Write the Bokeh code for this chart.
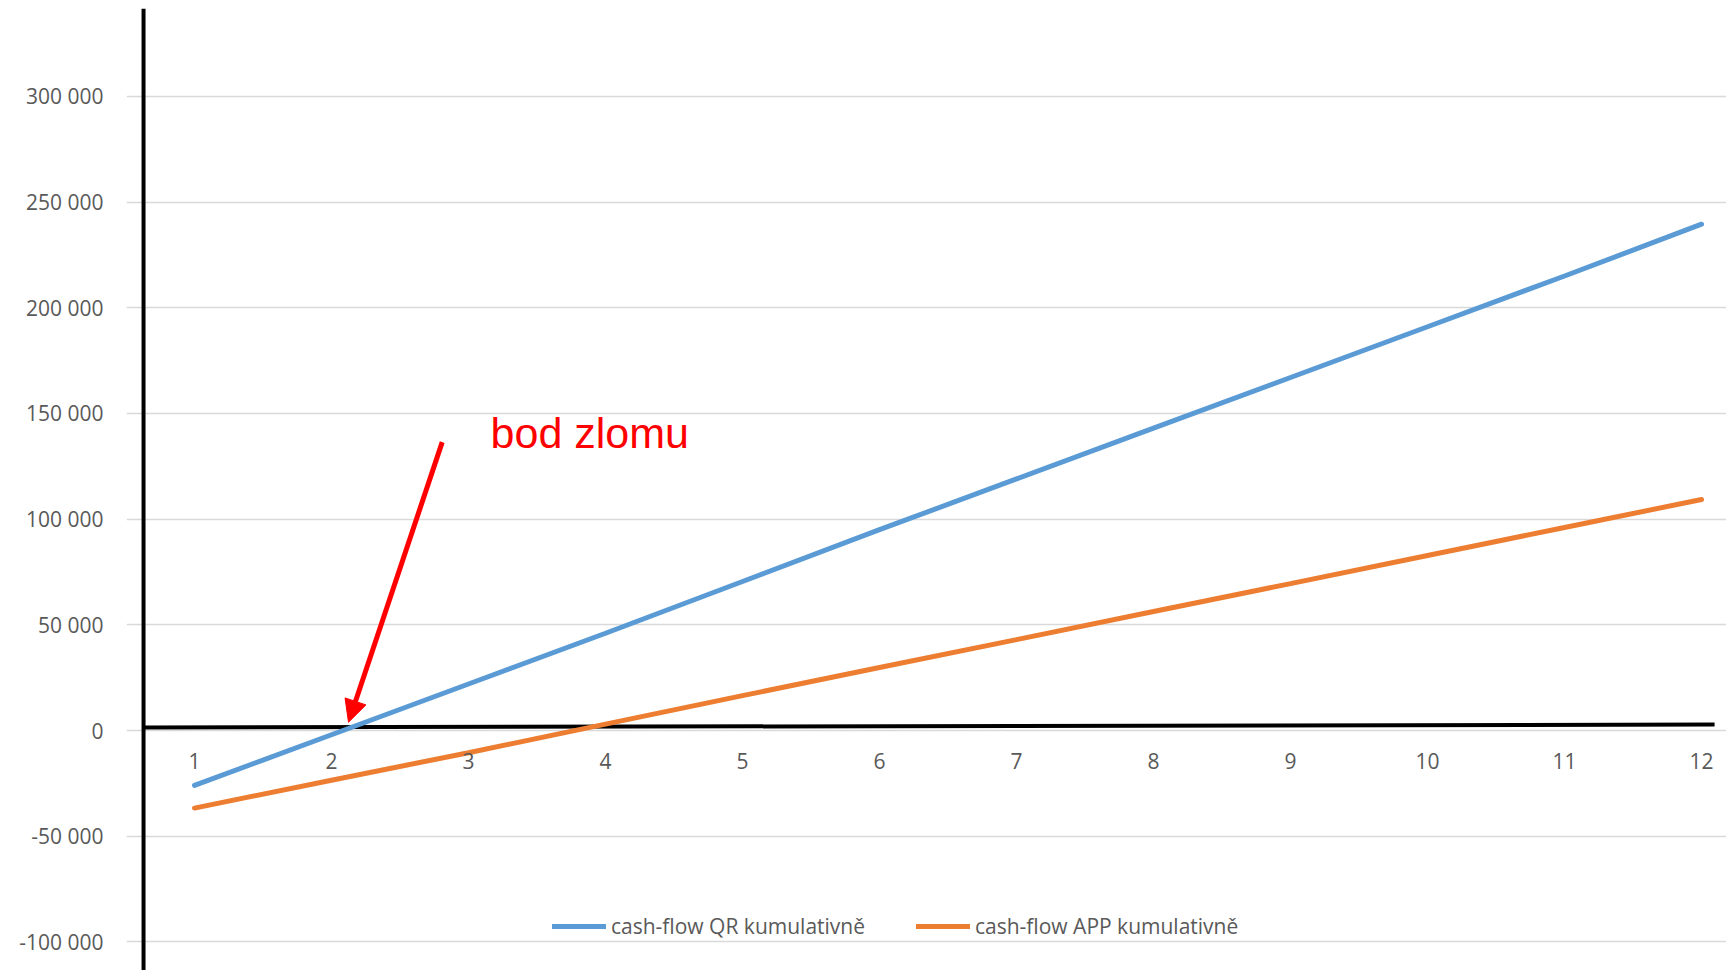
from bokeh.plotting import figure
from bokeh.models import Range1d, FixedTicker, Span, Arrow, NormalHead, Label, ColumnDataSource
from bokeh.core.properties import value
from bokeh.embed import file_html
from bokeh.resources import INLINE

# ---- data ----
months = [1, 2, 3, 4, 5, 6, 7, 8, 9, 10, 11, 12]
month_labels = ["1", "2", "3", "4", "5", "6", "7", "8", "9", "10", "11", "12"]
qr_cum = [-26000, -2000, 22000, 46000, 70500, 95000, 119000, 143000, 167000, 191000, 215000, 239500]
app_cum = [-36700, -23500, -10500, 3000, 16500, 29800, 43000, 56300, 69500, 82800, 96000, 109300]
y_ticks = [-100000, -50000, 0, 50000, 100000, 150000, 200000, 250000, 300000]
series_names = ["cash-flow QR kumulativně", "cash-flow APP kumulativně"]
annotation_text = "bod zlomu"

GRAY = "#595959"
FONT = "Open Sans"

p = figure(width=1726, height=970, output_backend="svg", toolbar_location=None,
           x_axis_location=None,
           x_range=Range1d(0.5036, 12.182), y_range=Range1d(-113530, 341540),
           min_border_left=126, min_border_right=0, min_border_top=8, min_border_bottom=0)
p.outline_line_color = None
p.xgrid.visible = False
p.ygrid.grid_line_color = "#d9d9d9"
p.ygrid.grid_line_width = 1.5

yax = p.yaxis[0]
yax.ticker = FixedTicker(ticks=y_ticks)
yax.major_label_overrides = {v: f"{v:,}".replace(",", " ") for v in y_ticks}
yax.axis_line_color = None
yax.major_tick_line_color = None
yax.minor_tick_line_color = None
yax.major_tick_out = 0
yax.major_label_standoff = 23
yax.major_label_text_font = FONT
yax.major_label_text_font_size = "21px"
yax.major_label_text_color = GRAY

# hand-drawn axes lines
p.add_layout(Span(location=0.628, dimension="height", line_color="black", line_width=4))
p.segment(x0=[0.628], y0=[1400], x1=[12.095], y1=[2800], line_color="black", line_width=4)

# series
p.line(months, qr_cum, line_color="#5B9BD5", line_width=5, line_cap="round",
       legend_label=series_names[0])
p.line(months, app_cum, line_color="#ED7D31", line_width=5, line_cap="round",
       legend_label=series_names[1])

# category labels near zero line
src = ColumnDataSource(dict(x=months, y=[0] * len(months), t=month_labels))
p.text(x="x", y="y", text="t", source=src, y_offset=30, text_align="center",
       text_baseline="middle", text_font=value(FONT), text_font_size="21px",
       text_color=GRAY)

# annotation
p.add_layout(Arrow(x_start=2.808, y_start=136400, x_end=2.124, y_end=3900,
                   line_color="red", line_width=5,
                   end=NormalHead(size=22, fill_color="red", line_color="red")))
p.add_layout(Label(x=3.161, y=140500, text=annotation_text, text_color="red",
                   text_font="Liberation Sans", text_font_size="43px",
                   text_baseline="alphabetic", text_align="left"))

lg = p.legend[0]
lg.orientation = "horizontal"
lg.location = (426, 30)
lg.glyph_width = 54
lg.glyph_height = 24
lg.label_height = 24
lg.label_standoff = 5
lg.spacing = 51
lg.padding = 0
lg.margin = 0
lg.border_line_color = None
lg.background_fill_alpha = 0
lg.label_text_font = FONT
lg.label_text_font_size = "21px"
lg.label_text_color = GRAY

open("out.html", "w").write(file_html(p, INLINE))
